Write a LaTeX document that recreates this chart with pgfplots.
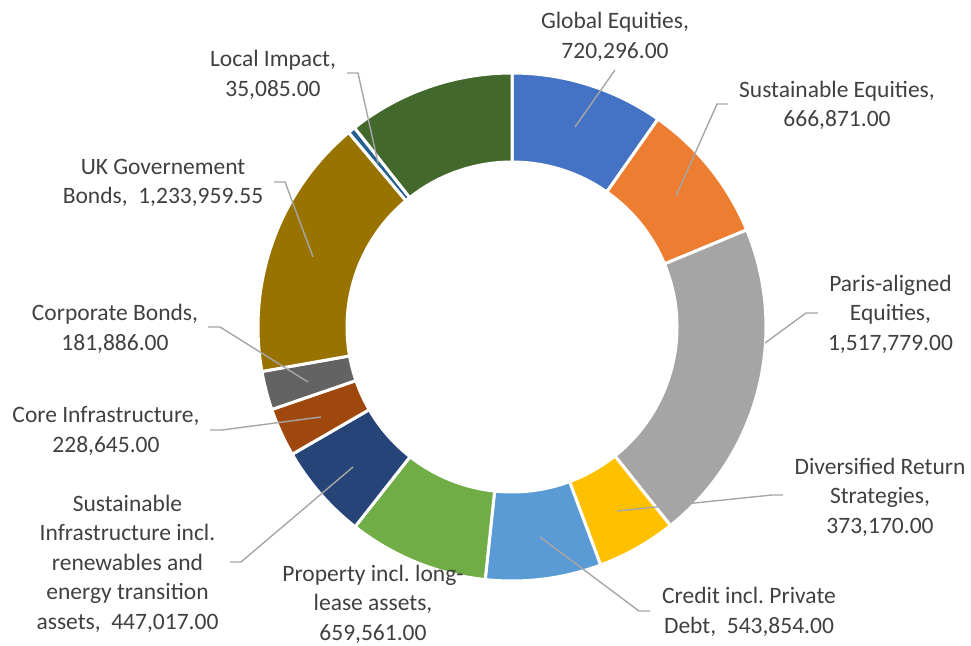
\documentclass[border=0pt]{standalone}
\usepackage{pgfplots}
\pgfplotsset{compat=1.18}
\usepackage{pgfplotstable}
\usepackage{fontspec}
\setmainfont{Carlito}

\definecolor{cGE}{HTML}{4472C4}
\definecolor{cSE}{HTML}{ED7D31}
\definecolor{cPA}{HTML}{A5A5A5}
\definecolor{cDR}{HTML}{FFC000}
\definecolor{cCR}{HTML}{5B9BD5}
\definecolor{cPR}{HTML}{70AD47}
\definecolor{cSI}{HTML}{264478}
\definecolor{cCI}{HTML}{9E480E}
\definecolor{cCB}{HTML}{636363}
\definecolor{cUK}{HTML}{997300}
\definecolor{cLI}{HTML}{255E91}
\definecolor{cLG}{HTML}{43682B}
\definecolor{tgray}{HTML}{404040}
\definecolor{lgray}{HTML}{A6A6A6}

% slice values, clockwise from the top
\pgfplotstableread{
value      colour
720296.00  cGE
666871.00  cSE
1517779.00 cPA
373170.00  cDR
543854.00  cCR
659561.00  cPR
447017.00  cSI
228645.00  cCI
181886.00  cCB
1233959.55 cUK
35085.00   cLI
787000.00  cLG
}\donut

\newcommand\fpuon{\pgfkeys{/pgf/fpu=true,/pgf/fpu/output format=fixed}}
\newcommand\fpuoff{\pgfkeys{/pgf/fpu=false}}

\tikzset{
  lbl/.style={align=center, text=tgray, inner sep=0pt,
    font=\fontsize{23.5}{29.5}\selectfont\frenchspacing},
  leader/.style={draw=lgray, line width=1.4pt},
}

\begin{document}
\begin{tikzpicture}
% total and slice angles (fpu: the values are too large for pgfmath)
\def\total{0}
\pgfplotsforeachungrouped \i in {0,...,11}{%
  \pgfplotstablegetelem{\i}{value}\of\donut \let\v\pgfplotsretval
  \fpuon\pgfmathparse{\total+\v}\let\total\pgfmathresult\fpuoff
}
\def\cum{0}
\gdef\slices{}
\pgfplotsforeachungrouped \i in {0,...,11}{%
  \pgfplotstablegetelem{\i}{value}\of\donut \let\v\pgfplotsretval
  \pgfplotstablegetelem{\i}{colour}\of\donut \let\c\pgfplotsretval
  \fpuon
  \pgfmathparse{90-\cum/\total*360}\let\as\pgfmathresult
  \pgfmathparse{\cum+\v}\let\cum\pgfmathresult
  \pgfmathparse{90-\cum/\total*360}\let\ae\pgfmathresult
  \fpuoff
  \xdef\slices{\unexpanded\expandafter{\slices}%
    \noexpand\fill[shift={(axis cs:512,318)},fill=\c,draw=white,line width=3pt]
      (\as:254pt) arc[start angle=\as,end angle=\ae,radius=254pt]
      -- (\ae:165pt) arc[start angle=\ae,end angle=\as,radius=165pt] -- cycle;}%
}
\begin{axis}[
  x=1pt, y=1pt,
  xmin=0, xmax=971, ymin=0, ymax=645,
  hide axis,
  clip=false,
]
\path (axis cs:0,0) rectangle (axis cs:971,645);
\slices

% leader lines
\draw[leader] (axis cs:615,575) -- (axis cs:575,518);
\draw[leader] (axis cs:728,541) -- (axis cs:717,541) -- (axis cs:676,449);
\draw[leader] (axis cs:818,332) -- (axis cs:806,332) -- (axis cs:765,302);
\draw[leader] (axis cs:783,150) -- (axis cs:772,150) -- (axis cs:617,134);
\draw[leader] (axis cs:650,34) -- (axis cs:639,34) -- (axis cs:540,108);
\draw[leader] (axis cs:230,83) -- (axis cs:241,83) -- (axis cs:353,178);
\draw[leader] (axis cs:210,215) -- (axis cs:222,215) -- (axis cs:321,228);
\draw[leader] (axis cs:208,318) -- (axis cs:220,318) -- (axis cs:308,263);
\draw[leader] (axis cs:274,463) -- (axis cs:285,463) -- (axis cs:313,388);
\draw[leader] (axis cs:347,572) -- (axis cs:358,572) -- (axis cs:378,482);

% data labels
\node[lbl] at (axis cs:615,608) {Global Equities,\\720,296.00};
\node[lbl] at (axis cs:837,539.5) {Sustainable Equities,\\666,871.00};
\node[lbl] at (axis cs:890.5,331) {Paris-aligned\\Equities,\\1,517,779.00};
\node[lbl] at (axis cs:880,148) {Diversified Return\\Strategies,\\373,170.00};
\node[lbl] at (axis cs:749,33) {Credit incl. Private\\Debt,~~543,854.00};
\node[lbl] at (axis cs:373,41) {Property incl. long-\\lease assets,\\659,561.00};
\node[lbl] at (axis cs:127.5,81.5) {Sustainable\\Infrastructure incl.\\renewables and\\energy transition\\assets,~~447,017.00};
\node[lbl] at (axis cs:106,214) {Core Infrastructure,\\228,645.00};
\node[lbl] at (axis cs:115,316) {Corporate Bonds,\\181,886.00};
\node[lbl] at (axis cs:163,462) {UK Governement\\Bonds,~~1,233,959.55};
\node[lbl] at (axis cs:273,570) {Local Impact,\\35,085.00};
\end{axis}
\end{tikzpicture}
\end{document}
